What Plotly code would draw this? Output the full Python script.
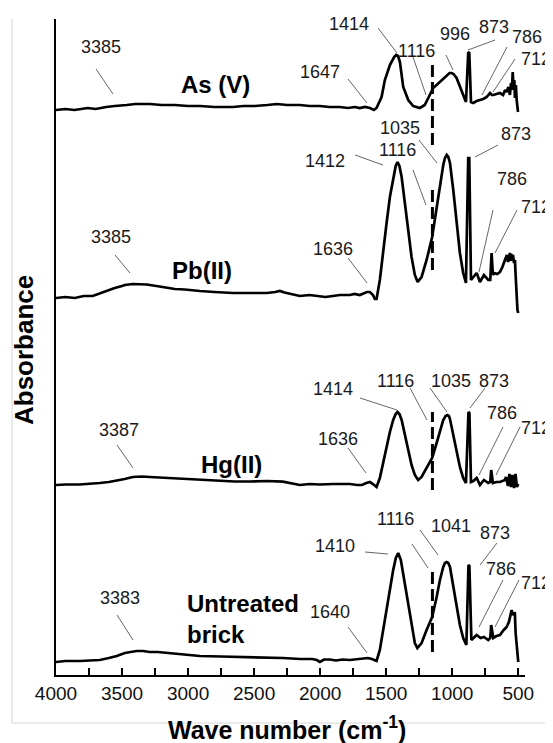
import plotly.graph_objects as go

# ---------------- data ----------------
# Wave numbers (cm-1) and stacked absorbance (a.u., with vertical offsets)
as_wn = [4000, 3930, 3860, 3820, 3760, 3700, 3669, 3620, 3555, 3500, 3464, 3400, 3290, 3200, 3101,
         3000, 2911, 2800, 2661, 2580, 2495, 2400, 2328, 2250, 2154, 2080, 2002, 1930, 1851, 1790,
         1737, 1700, 1661, 1623, 1593, 1573, 1535, 1510, 1472, 1440, 1425, 1410, 1396, 1371, 1333,
         1295, 1245, 1208, 1170, 1144, 1094, 1042, 1020, 1005, 990, 967, 929, 896, 879, 871, 858,
         841, 815, 790, 765, 739, 714, 700, 689, 665, 639, 615, 600, 588, 575, 563, 555, 548, 542,
         535, 530, 525, 518, 512, 507, 502]
as_ab = [565, 566, 565, 566, 567, 566, 567, 568, 569, 570, 570, 571, 571, 570, 570,
         569, 569, 568, 568, 569, 569, 570, 571, 570, 570, 569, 569, 568, 568, 567,
         568, 567, 568, 567, 565, 567, 578, 595, 610, 618, 620, 619, 613, 588, 575,
         569, 567, 570, 580, 587, 593, 600, 602, 602, 601, 597, 585, 573, 622, 623, 573,
         572, 574, 575, 576, 578, 582, 580, 580, 581, 582, 580, 585, 583, 588, 580, 592, 585, 603,
         585, 595, 577, 590, 575, 563, 563]

pb_wn = [4000, 3930, 3858, 3790, 3722, 3680, 3646, 3600, 3555, 3500, 3479, 3419, 3360, 3313, 3240,
         3161, 3100, 3025, 2960, 2911, 2800, 2661, 2550, 2404, 2340, 2305, 2270, 2229, 2190, 2154,
         2080, 2002, 1960, 1904, 1850, 1775, 1740, 1700, 1670, 1646, 1624, 1600, 1586, 1573, 1548,
         1523, 1497, 1472, 1447, 1428, 1414, 1400, 1383, 1358, 1333, 1308, 1283, 1262, 1232, 1194,
         1152, 1118, 1093, 1068, 1055, 1042, 1030, 1017, 992, 967, 942, 917, 896, 879, 871, 858,
         841, 815, 790, 760, 727, 712, 702, 692, 684, 660, 639, 620, 601, 586, 578, 571, 563, 556,
         552, 545, 540, 532, 525, 520, 513, 506, 500]
pb_ab = [377, 378, 377, 379, 379, 381, 383, 385, 387, 389, 390, 391, 391, 390.5, 389,
         387, 386, 385.5, 384.5, 384, 383, 382, 382, 382, 383, 384, 382.5, 381, 380, 379,
         380, 379, 378, 379, 380, 380, 381, 380, 382, 383, 383, 380, 376, 376, 395,
         425, 452, 478, 498, 509, 513, 509, 498, 472, 445, 418, 400, 393, 398, 415,
         438, 468, 492, 510, 517, 520, 518, 512, 485, 452, 422, 402, 392, 517, 517, 395,
         398, 402, 393, 400, 395, 395, 422, 400, 402, 401, 403, 408, 415, 420, 413, 418, 422, 414,
         421, 415, 420, 412, 415, 400, 380, 365, 362]

hg_wn = [4000, 3930, 3820, 3740, 3669, 3600, 3555, 3480, 3419, 3350, 3290, 3160, 3040, 2900, 2782,
         2650, 2532, 2400, 2282, 2200, 2154, 2080, 2002, 1900, 1775, 1720, 1684, 1650, 1623, 1600,
         1573, 1548, 1523, 1497, 1472, 1447, 1428, 1414, 1400, 1383, 1358, 1333, 1308, 1283, 1258,
         1232, 1194, 1152, 1118, 1093, 1068, 1050, 1037, 1025, 1017, 992, 967, 942, 917, 896, 877,
         870, 858, 841, 815, 790, 760, 727, 712, 705, 692, 665, 639, 620, 601, 593, 578, 567, 555,
         544, 532, 521, 510, 500]
hg_ab = [190, 190.5, 190.5, 191, 192, 193, 194, 196, 198, 198.5, 198, 197, 196, 195, 194,
         193.5, 193.5, 194, 193.3, 191.5, 190, 191, 190.5, 191, 191, 190, 190, 192, 193, 191,
         188, 197, 213, 228, 243, 255, 261, 263, 261, 255, 240, 225, 210, 200, 195,
         198, 207, 217, 232, 245, 255, 259, 260, 259, 256, 240, 223, 208, 197, 192, 263,
         262, 193, 194, 197, 190, 195, 192, 193, 205, 192, 193, 193, 194, 195, 198, 189, 201, 188,
         200, 187, 201, 188, 191]

ub_wn = [4000, 3930, 3820, 3740, 3669, 3600, 3540, 3479, 3430, 3389, 3340, 3290, 3230, 3161, 3050,
         2911, 2750, 2532, 2400, 2282, 2150, 2060, 2025, 2002, 1970, 1927, 1880, 1830, 1775, 1720,
         1684, 1660, 1639, 1608, 1590, 1573, 1548, 1523, 1497, 1472, 1447, 1427, 1409, 1389, 1366,
         1333, 1308, 1283, 1264, 1232, 1194, 1152, 1118, 1093, 1068, 1055, 1042, 1030, 1017, 992,
         967, 942, 917, 893, 877, 870, 855, 840, 815, 785, 760, 727, 712, 705, 689, 665, 639, 610,
         588, 571, 560, 550, 545, 540, 532, 526, 520, 510, 500]
ub_ab = [13, 14, 14, 14.5, 15, 17, 19, 22, 23.5, 24, 24, 23, 23, 22, 20.5,
         19, 18.5, 18, 17.5, 17, 16, 16, 15, 13, 15.5, 15.5, 14.5, 15.5, 15, 16,
         16, 17, 17, 16, 15, 14, 25, 45, 67, 87, 105, 117, 122, 115, 97,
         70, 48, 32, 27, 32, 45, 58, 78, 95, 108, 112, 113, 112, 108, 90,
         70, 50, 37, 30, 110, 109, 35, 37, 40, 37, 38, 35, 37, 50, 37, 39, 40, 45,
         48, 53, 58, 65, 60, 62, 60, 63, 42, 25, 13]

series_names = ["As (V)", "Pb(II)", "Hg(II)", "Untreated brick"]
x_ticks = [4000, 3500, 3000, 2500, 2000, 1500, 1000, 500]
x_minor = [3750, 3250, 2750, 2250, 1750, 1250, 750]
dash_wn = 1150
dash_spans = [(530, 612), (405, 485), (185, 263), (23, 105)]

# ---------------- layout geometry ----------------
# The page body has an 8 px default margin, so the figure is drawn 8 px smaller
# and all page-pixel positions below are converted to paper fractions.
PAGE_W, PAGE_H = 553, 743
BODY = 8
FIG_W, FIG_H = PAGE_W - BODY, PAGE_H - BODY
PLOT_L, PLOT_R, PLOT_T, PLOT_B = 56, 525, 19, 675   # page pixels of the plot area
ML, MR = PLOT_L - BODY, PAGE_W - PLOT_R
MT, MB = PLOT_T - BODY, PAGE_H - PLOT_B
X_RANGE = [4000, 449]
Y_RANGE = [0, 656]
PW = PLOT_R - PLOT_L
PH = PLOT_B - PLOT_T
FONT = "Liberation Sans, Arial, Helvetica, sans-serif"


def pxx(px):
    return (px - PLOT_L) / PW


def pxy(py):
    return (PLOT_B - py) / PH


fig = go.Figure()
for wn, ab, nm in [(as_wn, as_ab, series_names[0]), (pb_wn, pb_ab, series_names[1]),
                   (hg_wn, hg_ab, series_names[2]), (ub_wn, ub_ab, series_names[3])]:
    fig.add_trace(go.Scatter(x=wn, y=ab, mode="lines", name=nm,
                             line=dict(color="black", width=2.7), hoverinfo="skip"))

shapes = []
for y0, y1 in dash_spans:
    shapes.append(dict(type="line", xref="x", yref="y", x0=dash_wn, x1=dash_wn, y0=y0, y1=y1,
                       line=dict(color="black", width=3, dash="12px,5px")))

# peak labels: (text, centre page-px x, centre page-px y)
labels = [
    ("3385", 101, 47), ("1647", 320, 72), ("1414", 349, 24), ("1116", 416, 51),
    ("996", 455, 34), ("873", 494, 27), ("786", 527, 37), ("712", 536, 59),
    ("3385", 111, 237), ("1636", 333, 249), ("1412", 325, 161), ("1116", 397, 150),
    ("1035", 400, 128), ("873", 516, 134), ("786", 512, 179), ("712", 536, 207),
    ("3387", 119, 430), ("1636", 338, 439), ("1414", 333, 389), ("1116", 395, 381),
    ("1035", 451, 381), ("873", 494, 381), ("786", 502, 413), ("712", 536, 428),
    ("3383", 120, 598), ("1640", 330, 612), ("1410", 335, 546), ("1116", 395, 519),
    ("1041", 451, 526), ("873", 495, 533), ("786", 501, 569), ("712", 536, 583),
]
leaders = [
    (96, 69, 113, 94), (348, 79, 367, 103), (378, 28, 397, 53), (413, 57, 426, 95),
    (446, 55, 453, 70), (495, 40, 468, 50), (507, 47, 482, 95), (515, 59, 493, 92),
    (115, 255, 130, 273), (348, 258, 367, 283), (355, 155, 383, 165), (413, 170, 426, 205),
    (419, 140, 437, 163), (498, 145, 475, 157), (493, 210, 479, 272), (517, 210, 495, 253),
    (117, 445, 133, 468), (348, 448, 366, 473), (360, 398, 397, 410), (410, 388, 427, 420),
    (430, 388, 447, 412), (485, 388, 470, 408), (503, 427, 479, 475), (520, 427, 496, 475),
    (117, 615, 133, 640), (348, 627, 367, 653), (365, 552, 388, 554), (412, 544, 428, 568),
    (420, 530, 438, 555), (497, 543, 480, 565), (503, 580, 479, 627), (519, 580, 495, 627),
]
for x0, y0, x1, y1 in leaders:
    shapes.append(dict(type="line", xref="paper", yref="paper", x0=pxx(x0), y0=pxy(y0),
                       x1=pxx(x1), y1=pxy(y1), line=dict(color="#666666", width=1)))

# light frame of the original chart area
shapes.append(dict(type="line", xref="paper", yref="paper", x0=pxx(12), x1=pxx(12),
                   y0=pxy(19), y1=pxy(723), line=dict(color="#d6d6d6", width=1)))
shapes.append(dict(type="line", xref="paper", yref="paper", x0=pxx(12), x1=pxx(560),
                   y0=pxy(723), y1=pxy(723), line=dict(color="#d6d6d6", width=1)))

annotations = []
for t, cx, cy in labels:
    annotations.append(dict(text=t, xref="paper", yref="paper", x=pxx(cx), y=pxy(cy),
                            xanchor="center", yanchor="middle", showarrow=False,
                            font=dict(family=FONT, size=18, color="#1a1a1a")))

# sample names
for t, cx, cy in [("<b>As (V)</b>", 215, 85), ("<b>Pb(II)</b>", 202, 270),
                  ("<b>Hg(II)</b>", 231, 464)]:
    annotations.append(dict(text=t, xref="paper", yref="paper", x=pxx(cx), y=pxy(cy),
                            xanchor="center", yanchor="middle", showarrow=False,
                            font=dict(family=FONT, size=24, color="black")))
annotations.append(dict(text="<b>Untreated<br>brick</b>", xref="paper", yref="paper",
                        x=pxx(185), y=pxy(619), xanchor="left", yanchor="middle", align="left",
                        showarrow=False, font=dict(family=FONT, size=24, color="black")))

# axis titles
annotations.append(dict(text="<b>Wave number (cm<sup>-1</sup>)</b>", xref="paper", yref="paper",
                        x=pxx(287), y=pxy(728), xanchor="center", yanchor="middle",
                        showarrow=False, font=dict(family=FONT, size=25, color="black")))
annotations.append(dict(text="<b>Absorbance</b>", xref="paper", yref="paper",
                        x=pxx(24), y=pxy(350), xanchor="center", yanchor="middle",
                        textangle=-90, showarrow=False,
                        font=dict(family=FONT, size=26, color="black")))

fig.update_layout(
    width=FIG_W, height=FIG_H, autosize=False,
    margin=dict(l=ML, r=MR, t=MT, b=MB, pad=0),
    paper_bgcolor="white", plot_bgcolor="white",
    showlegend=False, hovermode=False,
    shapes=shapes, annotations=annotations,
    font=dict(family=FONT, color="black"),
)
fig.update_xaxes(range=X_RANGE, tickvals=x_ticks, ticktext=[str(v) for v in x_ticks],
                 ticks="inside", ticklen=7, tickwidth=1.5, tickcolor="black",
                 showline=True, linewidth=2, linecolor="black", showgrid=False, zeroline=False,
                 tickfont=dict(family=FONT, size=19, color="#111111"),
                 minor=dict(tickvals=x_minor, ticks="inside", ticklen=7, tickwidth=1.5,
                            tickcolor="black", showgrid=False))
fig.update_yaxes(range=Y_RANGE, showline=True, linewidth=2, linecolor="black",
                 showticklabels=False, ticks="", showgrid=False, zeroline=False)

fig.write_html("out.html")
